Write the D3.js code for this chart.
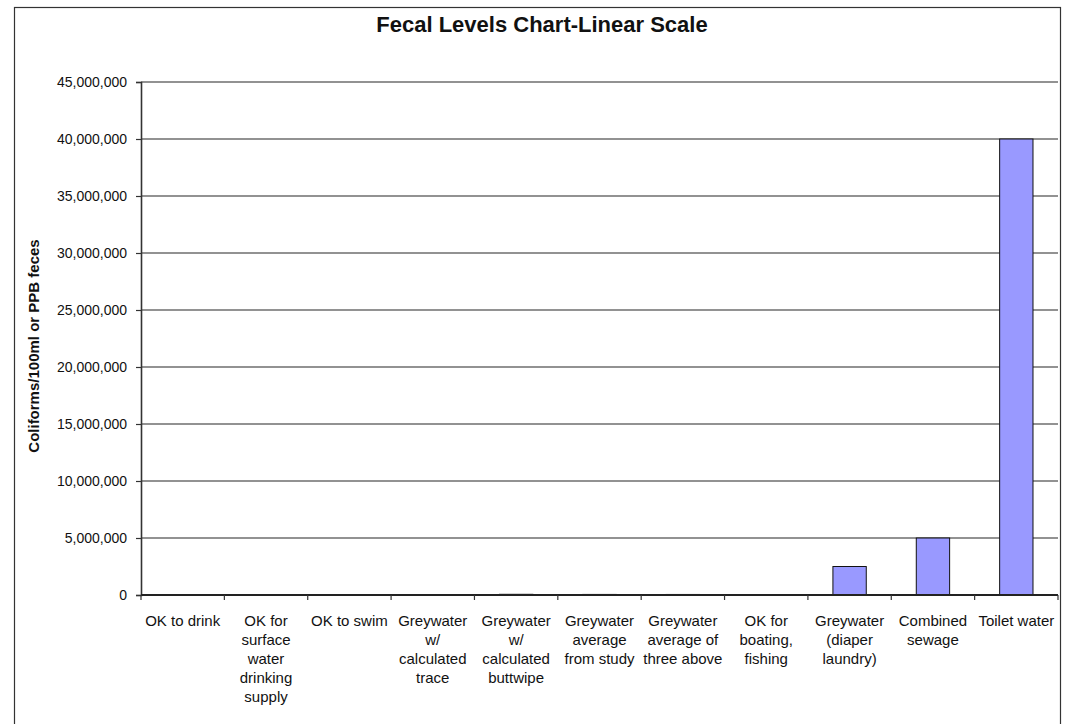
<!DOCTYPE html>
<html>
<head>
<meta charset="utf-8">
<script src="https://cdn.jsdelivr.net/npm/d3@7"></script>
<style>
  html, body { margin: 0; padding: 0; background: #fff; }
  svg { display: block; }
  text { font-family: "Liberation Sans", Arial, sans-serif; fill: #111; }
</style>
</head>
<body>
<svg id="chart" width="1066" height="724"></svg>
<script>
// Fecal coliform levels per category (colonies/100ml or PPB feces)
const categories = [
  "OK to drink",
  "OK for surface water drinking supply",
  "OK to swim",
  "Greywater w/ calculated trace",
  "Greywater w/ calculated buttwipe",
  "Greywater average from study",
  "Greywater average of three above",
  "OK for boating, fishing",
  "Greywater (diaper laundry)",
  "Combined sewage",
  "Toilet water"
];
const labelLines = [
  ["OK to drink"],
  ["OK for", "surface", "water", "drinking", "supply"],
  ["OK to swim"],
  ["Greywater", "w/", "calculated", "trace"],
  ["Greywater", "w/", "calculated", "buttwipe"],
  ["Greywater", "average", "from study"],
  ["Greywater", "average of", "three above"],
  ["OK for", "boating,", "fishing"],
  ["Greywater", "(diaper", "laundry)"],
  ["Combined", "sewage"],
  ["Toilet water"]
];
const values = [1, 2000, 200, 30000, 60000, 50000, 47000, 1000, 2500000, 5000000, 40000000];
const yTicks = [0, 5000000, 10000000, 15000000, 20000000, 25000000, 30000000, 35000000, 40000000, 45000000];
const chartTitle = "Fecal Levels Chart-Linear Scale";
const yTitle = "Coliforms/100ml or PPB feces";

const svg = d3.select("#chart");
const plot = { left: 141, right: 1058, top: 82, bottom: 595 };

// outer frame
svg.append("rect")
  .attr("x", 14.5).attr("y", 7.5)
  .attr("width", 1046).attr("height", 740)
  .attr("fill", "none").attr("stroke", "#333").attr("stroke-width", 1.2);

const x = d3.scaleBand()
  .domain(categories)
  .range([plot.left, plot.right])
  .paddingInner(0.6)
  .paddingOuter(0.3);

const y = d3.scaleLinear()
  .domain([0, 45000000])
  .range([plot.bottom, plot.top]);

const fmt = d3.format(",");

// gridlines
svg.append("g")
  .selectAll("line")
  .data(yTicks.filter(d => d > 0))
  .join("line")
  .attr("x1", plot.left).attr("x2", plot.right)
  .attr("y1", d => y(d)).attr("y2", d => y(d))
  .attr("stroke", "#6e6e6e").attr("stroke-width", 1.4);

// bars
svg.append("g")
  .selectAll("rect")
  .data(values)
  .join("rect")
  .attr("x", (d, i) => x(categories[i]))
  .attr("width", x.bandwidth())
  .attr("y", d => y(d))
  .attr("height", d => plot.bottom - y(d))
  .attr("fill", "#9999ff")
  .attr("stroke", "#111")
  .attr("stroke-width", 1);

// y axis
const yAxis = svg.append("g")
  .attr("transform", `translate(${plot.left},0)`)
  .call(d3.axisLeft(y).tickValues(yTicks).tickFormat(fmt).tickSize(5).tickPadding(9));
yAxis.select(".domain").attr("stroke", "#333").attr("stroke-width", 1.6);
yAxis.selectAll(".tick line").attr("stroke", "#333").attr("stroke-width", 1.2);
yAxis.selectAll(".tick text")
  .attr("font-size", 14)
  .attr("font-family", "Liberation Sans, Arial, sans-serif")
  .attr("fill", "#111");

// x axis baseline with category boundary ticks
const step = x.step();
const boundaries = d3.range(categories.length + 1).map(i => plot.left + i * step);
svg.append("line")
  .attr("x1", plot.left).attr("x2", plot.right)
  .attr("y1", plot.bottom).attr("y2", plot.bottom)
  .attr("stroke", "#222").attr("stroke-width", 2);
svg.append("g")
  .selectAll("line")
  .data(boundaries)
  .join("line")
  .attr("x1", d => d).attr("x2", d => d)
  .attr("y1", plot.bottom).attr("y2", plot.bottom + 5)
  .attr("stroke", "#333").attr("stroke-width", 1.2);

// category labels
const lab = svg.append("g");
labelLines.forEach((lines, i) => {
  const cx = x(categories[i]) + x.bandwidth() / 2;
  const t = lab.append("text")
    .attr("text-anchor", "middle")
    .attr("font-size", 15)
    .attr("x", cx).attr("y", 626);
  lines.forEach((ln, j) => {
    t.append("tspan").attr("x", cx).attr("dy", j === 0 ? 0 : 19).text(ln);
  });
});

// title
svg.append("text")
  .attr("x", 542).attr("y", 32)
  .attr("text-anchor", "middle")
  .attr("font-size", 22)
  .attr("font-weight", "bold")
  .text(chartTitle);

// y axis title
svg.append("text")
  .attr("transform", `translate(39,346) rotate(-90)`)
  .attr("text-anchor", "middle")
  .attr("font-size", 15)
  .attr("font-weight", "bold")
  .text(yTitle);
</script>
</body>
</html>
